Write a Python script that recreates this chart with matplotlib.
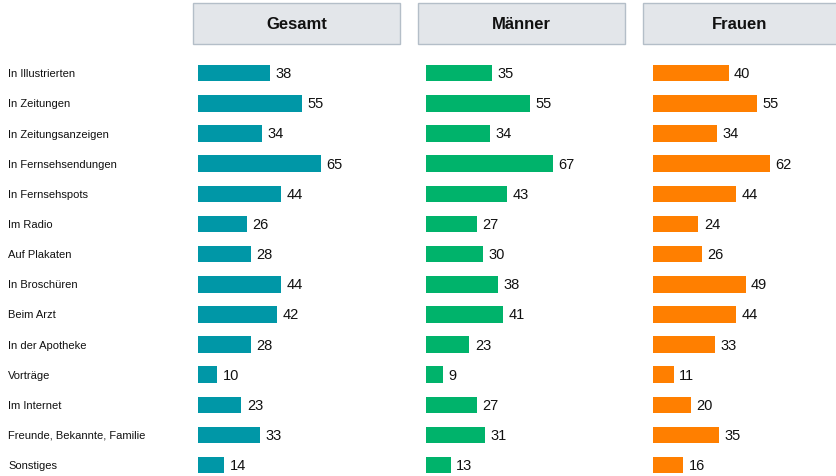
import matplotlib
matplotlib.use("Agg")
import matplotlib.pyplot as plt
from matplotlib.patches import Rectangle
from matplotlib.transforms import blended_transform_factory

plt.rcParams['font.family'] = ['Liberation Sans', 'DejaVu Sans']

categories = ["In Illustrierten", "In Zeitungen", "In Zeitungsanzeigen", "In Fernsehsendungen",
              "In Fernsehspots", "Im Radio", "Auf Plakaten", "In Broschüren", "Beim Arzt",
              "In der Apotheke", "Vorträge", "Im Internet", "Freunde, Bekannte, Familie", "Sonstiges"]
gesamt = [38, 55, 34, 65, 44, 26, 28, 44, 42, 28, 10, 23, 33, 14]
maenner = [35, 55, 34, 67, 43, 27, 30, 38, 41, 23, 9, 27, 31, 13]
frauen = [40, 55, 34, 62, 44, 24, 26, 49, 44, 33, 11, 20, 35, 16]
panels = ["Gesamt", "Männer", "Frauen"]
series = [gesamt, maenner, frauen]
colors = ["#0097A7", "#00B36B", "#FF7F00"]

W, H = 837, 477
fig = plt.figure(figsize=(W / 100, H / 100), dpi=100)

px_per_unit = 1.89
row0, row_step = 74.2, 30.15
bar_x0 = [198, 426, 653]
box_x = [(193, 400), (418, 625), (643, 837)]

for k in range(3):
    x0 = bar_x0[k]
    width_px = 200
    ax = fig.add_axes([x0 / W, 0, width_px / W, 1])
    ax.set_xlim(0, width_px / px_per_unit)
    ax.set_ylim((H - row0) / row_step, -row0 / row_step)
    ax.barh(range(len(categories)), series[k], height=0.55, color=colors[k])
    for i, v in enumerate(series[k]):
        ax.text(v + 2.9, i, str(v), va='center', ha='left', fontsize=10.5, color='#111111')
    ax.axis('off')

    # header box
    bx0, bx1 = box_x[k]
    fig.patches.append(Rectangle((bx0 / W, 1 - 45 / H), (bx1 - bx0) / W, 41 / H,
                                 transform=fig.transFigure, facecolor="#E3E6EA",
                                 edgecolor="#B4BEC8", linewidth=1.0))
    fig.text((bx0 + bx1) / 2 / W, 1 - 24.5 / H, panels[k], ha='center', va='center',
             fontsize=12, fontweight='bold', color='#111111')

    if k == 0:
        tr = blended_transform_factory(fig.transFigure, ax.transData)
        for i, c in enumerate(categories):
            ax.text(8 / W, i, c, transform=tr, ha='left', va='center', fontsize=8, color='#111111')

fig.savefig("out.png", dpi=100)
